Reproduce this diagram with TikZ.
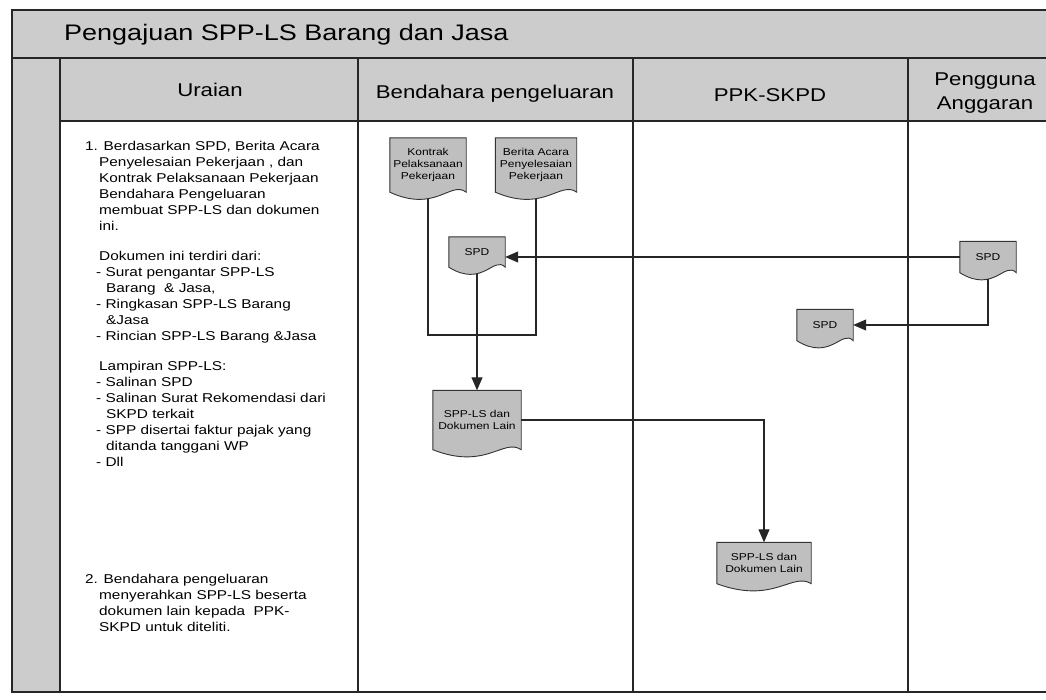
\documentclass[tikz,border=0pt]{standalone}
\usepackage{fontspec}
\setmainfont[FakeStretch=1.2]{Liberation Sans}
\usetikzlibrary{arrows.meta,calc,backgrounds}

\begin{document}
\begin{tikzpicture}[x=1pt,y=-1pt,
  band/.style={fill=black!20},
  grid/.style={draw=black!85, line width=1.1pt},
  doc/.style={rectangle, inner sep=0pt, align=center, font=\fontsize{10}{12}\selectfont},
  docfill/.style={fill=black!25, draw=black!80, line width=0.9pt},
  flow/.style={draw=black!85, line width=1.1pt},
  arrow/.style={flow, -{Triangle[length=13pt,width=11pt]}},
  head/.style={font=\fontsize{18.5}{24}\selectfont, align=center},
  body/.style={font=\fontsize{12.8}{16}\selectfont, align=left, anchor=north west, inner sep=0pt}
]
\useasboundingbox (0,0) rectangle (1046,699);

% shaded title band, header row and left margin strip
\path[band] (12,10) rectangle (1060,58);
\path[band] (12,58) rectangle (1060,121);
\path[band] (12,121) rectangle (60,692);

% table rules
\draw[grid] (1060,10) -- (12,10) -- (12,692) -- (1060,692);
\draw[grid] (12,58) -- (1060,58);
\draw[grid] (60,121) -- (1060,121);
\foreach \cx in {60,358,633,908} \draw[grid] (\cx,58) -- (\cx,692);

% title and column headers
\node[anchor=west, inner sep=0pt, font=\fontsize{22.5}{27}\selectfont] (title) at (64,35) {Pengajuan SPP-LS Barang dan Jasa};
\node[head] (hUraian) at (210,90) {Uraian};
\node[head] (hBend) at (495,94) {Bendahara pengeluaran};
\node[head] (hPPK) at (770,95) {PPK-SKPD};
\node[head] (hPA) at (985,93) {Pengguna\\Anggaran};

% description column
\node[body] (step1) at (85,141) {1. Berdasarkan SPD, Berita Acara\\
\hspace*{14pt}Penyelesaian Pekerjaan , dan\\
\hspace*{14pt}Kontrak Pelaksanaan Pekerjaan\\
\hspace*{14pt}Bendahara Pengeluaran\\
\hspace*{14pt}membuat SPP-LS dan dokumen\\
\hspace*{14pt}ini.\\[14pt]
\hspace*{14pt}Dokumen ini terdiri dari:\\
\hspace*{11pt}- Surat pengantar SPP-LS\\
\hspace*{21pt}Barang\ \ \& Jasa,\\
\hspace*{11pt}- Ringkasan SPP-LS Barang\\
\hspace*{21pt}\&Jasa\\
\hspace*{11pt}- Rincian SPP-LS Barang \&Jasa\\[14pt]
\hspace*{14pt}Lampiran SPP-LS:\\
\hspace*{11pt}- Salinan SPD\\
\hspace*{11pt}- Salinan Surat Rekomendasi dari\\
\hspace*{21pt}SKPD terkait\\
\hspace*{11pt}- SPP disertai faktur pajak yang\\
\hspace*{21pt}ditanda tanggani WP\\
\hspace*{11pt}- Dll};

\node[body] (step2) at (85,574) {2. Bendahara pengeluaran\\
\hspace*{14pt}menyerahkan SPP-LS beserta\\
\hspace*{14pt}dokumen lain kepada\ \ PPK-\\
\hspace*{14pt}SKPD untuk diteliti.};

% documents
\node[doc, minimum width=76pt, minimum height=54pt] (kontrak) at (428,165) {Kontrak\\Pelaksanaan\\Pekerjaan};
\node[doc, minimum width=81pt, minimum height=54pt] (berita) at (536,165) {Berita Acara\\Penyelesaian\\Pekerjaan};
\node[doc, minimum width=56pt, minimum height=30pt] (spdB) at (477,252) {SPD};
\node[doc, minimum width=88pt, minimum height=59pt] (sppB) at (477,420) {SPP-LS dan\\Dokumen Lain};
\node[doc, minimum width=56pt, minimum height=31pt] (spdA) at (988,257) {SPD};
\node[doc, minimum width=56pt, minimum height=31pt] (spdP) at (825,325) {SPD};
\node[doc, minimum width=94pt, minimum height=41pt] (sppP) at (764,563) {SPP-LS dan\\Dokumen Lain};

% document outlines with wavy lower edge
\begin{scope}[on background layer]
  \fill[white] (0,0) rectangle (1046,699);
  \foreach \d in {kontrak,berita,spdB,sppB,spdA,spdP,sppP}{
    \path[docfill] (\d.south west) -- (\d.north west) -- (\d.north east) -- (\d.south east)
      .. controls ($(\d.south west)!0.8!(\d.south east)+(0,-12)$)
         and ($(\d.south west)!0.6!(\d.south east)+(0,21)$) .. (\d.south west) -- cycle;
  }
\end{scope}

% connectors
\coordinate (join) at (482,335);
\draw[flow] ([yshift=-6.5pt]kontrak.south) |- (join) -| ([yshift=-6.5pt]berita.south);
\draw[arrow] ([yshift=-6.5pt]spdB.south) -- (sppB.north);
\draw[arrow] (spdA.west) -- (spdA.west -| spdB.east);
\draw[arrow] ([yshift=-6.5pt]spdA.south) |- (spdP.east);
\draw[arrow] (sppB.east) -| (sppP.north);
\end{tikzpicture}
\end{document}
